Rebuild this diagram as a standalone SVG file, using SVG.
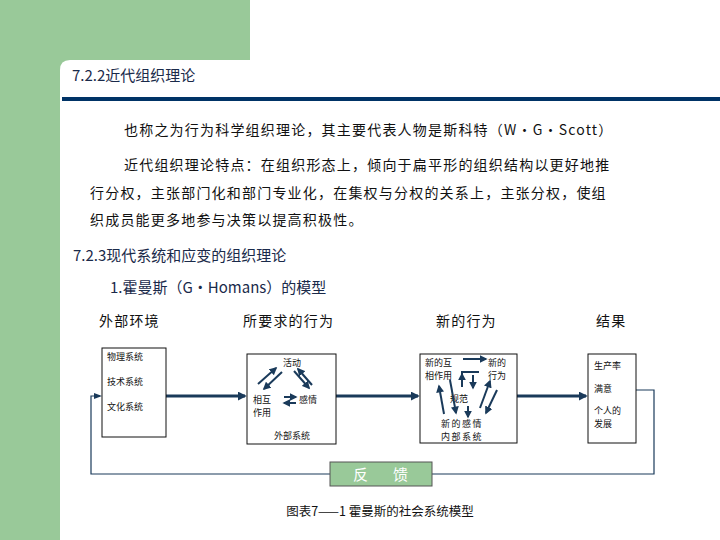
<svg xmlns="http://www.w3.org/2000/svg" width="720" height="540" viewBox="0 0 720 540">
<style>
text{font-family:"Noto Sans CJK SC","Liberation Sans",sans-serif;fill:#111}
.p{font-size:14px;letter-spacing:1.2px}
.h{font-size:15px;fill:#1a2a4a}
.s{font-size:9px}
.box{fill:#fff;stroke:#111;stroke-width:1}
.ln{stroke:#1a3a5a;stroke-width:3;fill:none}
.th{stroke:#1a3a5a;stroke-width:1.2;fill:none}
.ar{stroke:#1a3a5a;stroke-width:2;fill:none;marker-end:url(#m)}
</style>
<defs>
<marker id="m" viewBox="0 0 10 10" refX="8" refY="5" markerWidth="4" markerHeight="4" orient="auto"><path d="M0,0L10,5L0,10z" fill="#1a3a5a"/></marker>
<marker id="mb" viewBox="0 0 10 10" refX="8" refY="5" markerWidth="3" markerHeight="3" orient="auto"><path d="M0,0L10,5L0,10z" fill="#1a3a5a"/></marker>
</defs>
<rect width="720" height="540" fill="#fff"/>
<path d="M0,0H250V60H70Q60,60 60,70V540H0Z" fill="#99c999"/>
<line x1="62" y1="99" x2="720" y2="99" stroke="#003366" stroke-width="4"/>
<text x="72" y="81" class="h">7.2.2近代组织理论</text>
<text x="124" y="135" class="p">也称之为行为科学组织理论，其主要代表人物是斯科特（W·G·Scott）</text>
<text x="124" y="170" class="p">近代组织理论特点：在组织形态上，倾向于扁平形的组织结构以更好地推</text>
<text x="90" y="198" class="p">行分权，主张部门化和部门专业化，在集权与分权的关系上，主张分权，使组</text>
<text x="90" y="225" class="p">织成员能更多地参与决策以提高积极性。</text>
<text x="73" y="261" class="h">7.2.3现代系统和应变的组织理论</text>
<text x="110" y="293" class="h">1.霍曼斯（G·Homans）的模型</text>
<text x="99" y="326" class="p">外部环境</text>
<text x="243" y="326" class="p">所要求的行为</text>
<text x="436" y="326" class="p">新的行为</text>
<text x="596" y="326" class="p">结果</text>
<g id="connectors">
<line x1="166" y1="396" x2="245" y2="396" class="ln" marker-end="url(#mb)"/>
<line x1="336" y1="396" x2="418" y2="396" class="ln" marker-end="url(#mb)"/>
<line x1="517" y1="396" x2="586" y2="396" class="ln" marker-end="url(#mb)"/>
<polyline points="636,390 654,390 654,474 432,474" class="th"/>
<polyline points="330,474 91,474 91,396 100,396" class="th"/>
<path d="M94,393L102,396L94,399z" fill="#1a3a5a"/>
</g>
<g id="external"><rect x="102" y="348" width="64" height="89" class="box"/>
<text x="107" y="360" class="s">物理系统</text><text x="107" y="385" class="s">技术系统</text><text x="107" y="410" class="s">文化系统</text></g>
<g id="required"><rect x="247" y="354" width="89" height="90" class="box"/>
<text x="292" y="366" class="s" text-anchor="middle">活动</text>
<text x="253" y="403" class="s">相互</text><text x="253" y="416" class="s">作用</text>
<text x="299" y="403" class="s">感情</text>
<text x="292" y="439" class="s" text-anchor="middle">外部系统</text>
<line x1="258" y1="384" x2="276" y2="368" class="ar"/>
<line x1="282" y1="372" x2="264" y2="389" class="ar"/>
<line x1="294" y1="371" x2="309" y2="388" class="ar"/>
<line x1="312" y1="385" x2="298" y2="369" class="ar"/>
<line x1="284" y1="397" x2="296" y2="397" class="ar"/>
<line x1="296" y1="403" x2="284" y2="403" class="ar"/>
</g>
<g id="newbeh"><rect x="420" y="354" width="97" height="89" class="box"/>
<text x="425" y="366" class="s">新的互</text><text x="425" y="379" class="s">相作用</text>
<text x="488" y="366" class="s">新的</text><text x="488" y="379" class="s">行为</text>
<text x="459" y="402" class="s" text-anchor="middle">规范</text>
<text x="462" y="427" class="s" text-anchor="middle" style="letter-spacing:1.5px">新的感情</text>
<text x="462" y="440" class="s" text-anchor="middle" style="letter-spacing:1.5px">内部系统</text>
<line x1="463" y1="359" x2="486" y2="359" class="ar"/>
<polyline points="479,372 462,372 462,387" class="th" style="stroke-width:2"/>
<line x1="462" y1="386" x2="462" y2="374" class="ar"/>
<line x1="473" y1="375" x2="473" y2="388" class="ar"/>
<line x1="468" y1="406" x2="468" y2="417" class="ar"/>
<line x1="444" y1="414" x2="439" y2="386" class="ar"/>
<line x1="450" y1="380" x2="456" y2="413" class="ar"/>
<line x1="480" y1="408" x2="490" y2="381" class="ar"/>
<line x1="497" y1="390" x2="486" y2="413" class="ar"/>
</g>
<g id="result"><rect x="588" y="354" width="48" height="89" class="box"/>
<text x="594" y="369" class="s">生产率</text><text x="594" y="392" class="s">满意</text>
<text x="594" y="414" class="s">个人的</text><text x="594" y="427" class="s">发展</text></g>
<g id="feedback"><rect x="330" y="462" width="102" height="24" fill="#99c999" stroke="#555" stroke-width="1"/>
<text x="353" y="480" style="font-size:15px;fill:#fff">反</text><text x="393" y="480" style="font-size:15px;fill:#fff">馈</text></g>
<text x="380" y="516" text-anchor="middle" style="font-size:12.5px">图表7——1 霍曼斯的社会系统模型</text>
</svg>
